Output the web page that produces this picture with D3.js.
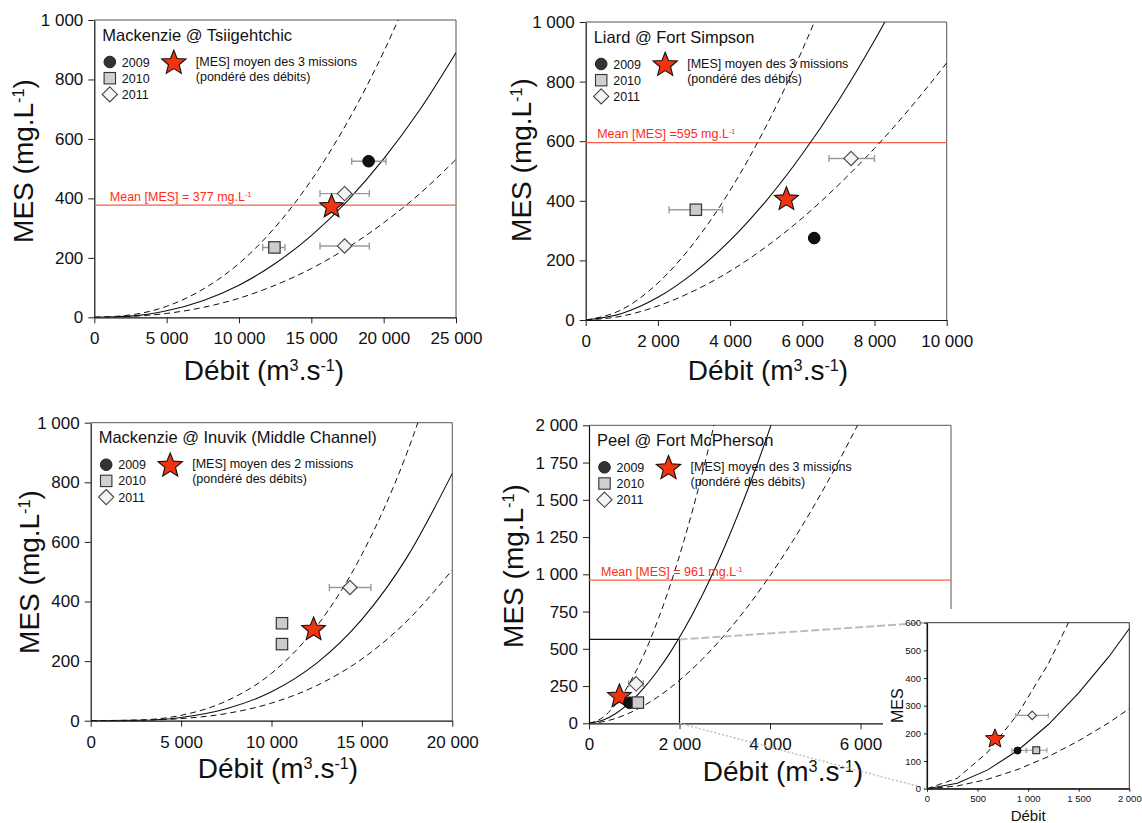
<!DOCTYPE html>
<html><head><meta charset="utf-8">
<script src="https://cdn.jsdelivr.net/npm/d3@7"></script>
<style>
body{margin:0;background:#fff}
svg{display:block}
text{font-family:"Liberation Sans",Arial,Helvetica,sans-serif;fill:#111}
</style>
</head><body>
<svg id="c" width="1142" height="823"></svg>
<script>
// ================= DATA =================
const years = ["2009", "2010", "2011"];
const starLegend2 = "[MES] moyen des 2 missions";
const starLegend3 = "[MES] moyen des 3 missions";
const starLegendSub = "(pondéré des débits)";

// Mackenzie @ Tsiigehtchic
const tsiTitle = "Mackenzie @ Tsiigehtchic";
const tsiXTicks = [0, 5000, 10000, 15000, 20000, 25000];
const tsiYTicks = [0, 200, 400, 600, 800, 1000];
const tsiSolid = [[0,0],[2500,4],[5000,22],[7500,56],[10000,108],[12500,181],[15000,275],[17500,392],[20000,533],[22500,698],[25000,890]];
const tsiUpper = [[0,0],[2500,8],[5000,37],[7500,94],[10000,181],[12500,303],[15000,461],[17500,657],[20000,893],[22500,1170]];
const tsiLower = [[0,0],[2500,3],[5000,13],[7500,33],[10000,64],[12500,108],[15000,164],[17500,234],[20000,318],[22500,416],[25000,531]];
const tsiObs = [
  {year:"2009", q:18960, mes:525, qLo:17790, qHi:20160},
  {year:"2010", q:12450, mes:235, qLo:11640, qHi:13180},
  {year:"2011", q:17300, mes:416, qLo:15600, qHi:19010},
  {year:"2011", q:17300, mes:240, qLo:15600, qHi:19010}
];
const tsiStar = [16400, 372];
const tsiMean = 377;

// Liard @ Fort Simpson
const liaTitle = "Liard @ Fort Simpson";
const liaXTicks = [0, 2000, 4000, 6000, 8000, 10000];
const liaYTicks = [0, 200, 400, 600, 800, 1000];
const liaSolid = [[0,0],[1000,22],[2000,76],[3000,159],[4000,267],[5000,400],[6000,557],[7000,736],[8000,938],[9000,1160]];
const liaUpper = [[0,0],[1000,35],[2000,124],[3000,259],[4000,435],[5000,651],[6000,906],[7000,1198]];
const liaLower = [[0,0],[1000,13],[2000,47],[3000,98],[4000,164],[5000,246],[6000,342],[7000,453],[8000,576],[9000,713],[10000,863]];
const liaObs = [
  {year:"2009", q:6330, mes:275, qLo:null, qHi:null},
  {year:"2010", q:3050, mes:370, qLo:2310, qHi:3790},
  {year:"2011", q:7350, mes:542, qLo:6740, qHi:8000}
];
const liaStar = [5560, 405];
const liaMean = 595;

// Mackenzie @ Inuvik (Middle Channel)
const inuTitle = "Mackenzie @ Inuvik (Middle Channel)";
const inuXTicks = [0, 5000, 10000, 15000, 20000];
const inuYTicks = [0, 200, 400, 600, 800, 1000];
const inuSolid = [[0,0],[2500,1],[5000,11],[7500,40],[10000,97],[12500,193],[15000,340],[17500,549],[20000,830]];
const inuUpper = [[0,0],[2500,2],[5000,18],[7500,66],[10000,159],[12500,317],[15000,558],[17500,900],[20000,1361]];
const inuLower = [[0,0],[2500,1],[5000,7],[7500,24],[10000,59],[12500,118],[15000,207],[17500,335],[20000,506]];
const inuObs = [
  {year:"2010", q:10580, mes:327, qLo:null, qHi:null},
  {year:"2010", q:10580, mes:257, qLo:null, qHi:null},
  {year:"2011", q:14340, mes:447, qLo:13200, qHi:15500}
];
const inuStar = [12330, 306];

// Peel @ Fort McPherson
const peeTitle = "Peel @ Fort McPherson";
const peeXTicks = [0, 2000, 4000, 6000, 8000];
const peeYTicks = [0, 250, 500, 750, 1000, 1250, 1500, 1750, 2000];
const peeSolid = [[0,0],[300,20],[600,68],[900,139],[1200,232],[1500,346],[1800,478],[2100,629],[2500,858],[3000,1187],[3500,1562],[4000,1981],[4500,2444]];
const peeUpper = [[0,0],[300,38],[600,132],[900,271],[1200,452],[1500,675],[1800,932],[2100,1227],[2500,1673],[3000,2315]];
const peeLower = [[0,0],[300,10],[600,34],[900,70],[1200,116],[1500,173],[1800,239],[2100,315],[2500,429],[3000,594],[3500,781],[4000,991],[4500,1222],[5000,1474],[5500,1747],[6000,2039]];
const peeObs = [
  {year:"2009", q:895, mes:138, qLo:840, qHi:980},
  {year:"2010", q:1080, mes:139, qLo:985, qHi:1185},
  {year:"2011", q:1040, mes:265, qLo:877, qHi:1199}
];
const peeStar = [672, 180];
const peeMean = 961;
const peeZoomBox = [2000, 563];
const insetXTicks = [0, 500, 1000, 1500, 2000];
const insetYTicks = [0, 100, 200, 300, 400, 500, 600];

// ================= DRAWING =================
const svg = d3.select("#c");
const loc = d3.formatLocale({decimal: ",", thousands: " ", grouping: [3], currency: ["", ""]});
const fmt = loc.format(",");
const FONT = '"Liberation Sans",Arial,Helvetica,sans-serif';
const STAR_FILL = "#f2330f";
const MEAN_LINE = "#f4604c";
const MEAN_TEXT = "#ff2a1a";

function starPath(R, r) {
  const pts = [];
  for (let i = 0; i < 10; i++) {
    const a = -Math.PI / 2 + i * Math.PI / 5;
    const rad = i % 2 === 0 ? R : r;
    pts.push([rad * Math.cos(a), rad * Math.sin(a)]);
  }
  return "M" + pts.map(p => p[0].toFixed(2) + "," + p[1].toFixed(2)).join("L") + "Z";
}

function marker(g, year, x, y, s) {
  if (year === "2009") {
    g.append("circle").attr("cx", x).attr("cy", y).attr("r", 5.8 * s)
      .attr("fill", "#111").attr("stroke", "#000").attr("stroke-width", 1);
  } else if (year === "2010") {
    const h = 5.7 * s;
    g.append("rect").attr("x", x - h).attr("y", y - h).attr("width", 2 * h).attr("height", 2 * h)
      .attr("fill", "#cccccc").attr("stroke", "#333").attr("stroke-width", 1.2);
  } else {
    const h = 7.2 * s;
    g.append("path").attr("d", `M${x},${y - h}L${x + h},${y}L${x},${y + h}L${x - h},${y}Z`)
      .attr("fill", "#f2f2f2").attr("stroke", "#444").attr("stroke-width", 1.1);
  }
}

function legendMarker(g, year, x, y) {
  if (year === "2009") {
    g.append("circle").attr("cx", x).attr("cy", y).attr("r", 5.8).attr("fill", "#333").attr("stroke", "#222");
  } else if (year === "2010") {
    g.append("rect").attr("x", x - 5.7).attr("y", y - 5.7).attr("width", 11.4).attr("height", 11.4)
      .attr("fill", "#d0d0d0").attr("stroke", "#333").attr("stroke-width", 1.1);
  } else {
    const h = 7.6;
    g.append("path").attr("d", `M${x},${y - h}L${x + h},${y}L${x},${y + h}L${x - h},${y}Z`)
      .attr("fill", "#f4f4f4").attr("stroke", "#444").attr("stroke-width", 1.1);
  }
}

function supText(sel, parts) {
  parts.forEach(([t, sup]) => {
    const ts = sel.append("tspan").text(t);
    if (sup) ts.attr("baseline-shift", "super").attr("font-size", "58%");
  });
}

let clipId = 0;
function drawPanel(L, D) {
  const x = d3.scaleLinear().domain([0, L.xMax]).range([L.left, L.right]);
  const y = d3.scaleLinear().domain([0, L.yMax]).range([L.bottom, L.top]);
  const g = svg.append("g");

  g.append("path")
    .attr("d", `M${L.left},${L.top}H${L.right}V${L.bottom}`)
    .attr("fill", "none").attr("stroke", "#555").attr("stroke-width", 1);

  const xa = d3.axisBottom(x).tickValues(L.xTicks).tickFormat(fmt).tickSize(6).tickPadding(9).tickSizeOuter(0);
  const ya = d3.axisLeft(y).tickValues(L.yTicks).tickFormat(fmt).tickSize(6).tickPadding(5).tickSizeOuter(0);
  const gx = g.append("g").attr("transform", `translate(0,${L.bottom})`).call(xa);
  const gy = g.append("g").attr("transform", `translate(${L.left},0)`).call(ya);
  [gx, gy].forEach(a => {
    a.selectAll("text").attr("font-size", 17).attr("font-family", FONT).attr("fill", "#111");
    a.selectAll("line").attr("stroke", "#222");
    a.select(".domain").attr("stroke", "#111").attr("stroke-width", 1.2);
  });

  const xt = g.append("text").attr("x", L.xTitle[0]).attr("y", L.xTitle[1])
    .attr("text-anchor", "middle").attr("font-size", 28);
  supText(xt, [["Débit (m", false], ["3", true], [".s", false], ["-1", true], [")", false]]);
  const yt = g.append("text").attr("transform", `translate(${L.yTitle[0]},${L.yTitle[1]}) rotate(-90)`)
    .attr("text-anchor", "middle").attr("font-size", 28);
  supText(yt, [["MES (mg.L", false], ["-1", true], [")", false]]);

  const cid = "clip" + (clipId++);
  g.append("clipPath").attr("id", cid).append("rect")
    .attr("x", L.left).attr("y", L.top).attr("width", L.right - L.left).attr("height", L.bottom - L.top);
  const pg = g.append("g").attr("clip-path", `url(#${cid})`);

  if (D.mean != null) {
    pg.append("line").attr("x1", L.left).attr("x2", L.right).attr("y1", y(D.mean)).attr("y2", y(D.mean))
      .attr("stroke", MEAN_LINE).attr("stroke-width", 1.3);
    const mt = g.append("text").attr("x", L.left + L.meanDx).attr("y", y(D.mean) - 4.5)
      .attr("font-size", 12.5).attr("fill", MEAN_TEXT).style("fill", MEAN_TEXT);
    supText(mt, [[L.meanText, false], ["-1", true]]);
  }

  const line = d3.line().x(d => x(d[0])).y(d => y(d[1])).curve(d3.curveMonotoneX);
  pg.append("path").attr("d", line(D.upper)).attr("fill", "none").attr("stroke", "#111")
    .attr("stroke-width", 1).attr("stroke-dasharray", "6,4");
  pg.append("path").attr("d", line(D.lower)).attr("fill", "none").attr("stroke", "#111")
    .attr("stroke-width", 1).attr("stroke-dasharray", "6,4");
  pg.append("path").attr("d", line(D.solid)).attr("fill", "none").attr("stroke", "#111").attr("stroke-width", 1.1);

  g.append("text").attr("x", L.left + 8).attr("y", L.top + 20.5).attr("font-size", 16.5).text(D.title);
  years.forEach((yr, i) => {
    legendMarker(g, yr, L.left + 15.5, L.top + 42 + i * 16.2);
    g.append("text").attr("x", L.left + 27.5).attr("y", L.top + 46.5 + i * 16.2).attr("font-size", 12.5).text(yr);
  });
  g.append("path").attr("d", starPath(12.8, 5.6))
    .attr("transform", `translate(${L.left + 79.5},${L.top + 43})`)
    .attr("fill", STAR_FILL).attr("stroke", "#111").attr("stroke-width", 1.1);
  g.append("text").attr("x", L.left + 101.5).attr("y", L.top + 45.5).attr("font-size", 12.5).text(D.starText);
  g.append("text").attr("x", L.left + 101.5).attr("y", L.top + 60.5).attr("font-size", 12.5).text(starLegendSub);

  const eg = g.append("g");
  D.obs.filter(o => o.qLo != null).forEach(o => {
    const yy = y(o.mes);
    eg.append("path")
      .attr("d", `M${x(o.qLo)},${yy}H${x(o.qHi)}M${x(o.qLo)},${yy - 3.5}V${yy + 3.5}M${x(o.qHi)},${yy - 3.5}V${yy + 3.5}`)
      .attr("stroke", "#9a9a9a").attr("stroke-width", 1.4).attr("fill", "none");
  });
  g.append("path").attr("d", starPath(12.5, 5.5))
    .attr("transform", `translate(${x(D.star[0])},${y(D.star[1])})`)
    .attr("fill", STAR_FILL).attr("stroke", "#111").attr("stroke-width", 1.1);
  D.obs.forEach(o => marker(g, o.year, x(o.q), y(o.mes), 1));

  return {x, y, g};
}

drawPanel(
  {left: 94.3, right: 456, top: 20, bottom: 317.3, xMax: 25000, yMax: 1000,
   xTicks: tsiXTicks, yTicks: tsiYTicks, xTitle: [264, 380], yTitle: [33, 161],
   meanDx: 15.5, meanText: "Mean [MES] = " + tsiMean + " mg.L"},
  {title: tsiTitle, solid: tsiSolid, upper: tsiUpper, lower: tsiLower, obs: tsiObs,
   star: tsiStar, mean: tsiMean, starText: starLegend3});

drawPanel(
  {left: 585.7, right: 946.7, top: 22, bottom: 320, xMax: 10000, yMax: 1000,
   xTicks: liaXTicks, yTicks: liaYTicks, xTitle: [768, 380], yTitle: [531, 160],
   meanDx: 11.5, meanText: "Mean [MES] =" + liaMean + " mg.L"},
  {title: liaTitle, solid: liaSolid, upper: liaUpper, lower: liaLower, obs: liaObs,
   star: liaStar, mean: liaMean, starText: starLegend3});

drawPanel(
  {left: 90.7, right: 452.3, top: 422.7, bottom: 720.7, xMax: 20000, yMax: 1000,
   xTicks: inuXTicks, yTicks: inuYTicks, xTitle: [278, 778.3], yTitle: [39, 572],
   meanDx: 12},
  {title: inuTitle, solid: inuSolid, upper: inuUpper, lower: inuLower, obs: inuObs,
   star: inuStar, mean: null, starText: starLegend2});

const P4 = drawPanel(
  {left: 589, right: 951, top: 425.3, bottom: 723.3, xMax: 8000, yMax: 2000,
   xTicks: peeXTicks, yTicks: peeYTicks, xTitle: [783, 780.7], yTitle: [522.7, 566],
   meanDx: 12, meanText: "Mean [MES] = " + peeMean + " mg.L"},
  {title: peeTitle, solid: peeSolid, upper: peeUpper, lower: peeLower, obs: peeObs,
   star: peeStar, mean: peeMean, starText: starLegend3});

svg.append("path")
  .attr("d", `M${P4.x(0)},${P4.y(peeZoomBox[1])}H${P4.x(peeZoomBox[0])}V${P4.y(0)}`)
  .attr("fill", "none").attr("stroke", "#111").attr("stroke-width", 1.2);

svg.append("rect").attr("x", 883).attr("y", 609).attr("width", 259).attr("height", 214).attr("fill", "#fff");

const IL = {left: 927, right: 1129.3, top: 622.7, bottom: 788.7};
const ix = d3.scaleLinear().domain([0, 2000]).range([IL.left, IL.right]);
const iy = d3.scaleLinear().domain([0, 600]).range([IL.bottom, IL.top]);

svg.append("line").attr("x1", P4.x(peeZoomBox[0])).attr("y1", P4.y(peeZoomBox[1])).attr("x2", IL.left).attr("y2", IL.top)
  .attr("stroke", "#bdbdbd").attr("stroke-width", 2).attr("stroke-dasharray", "8,3");
svg.append("line").attr("x1", P4.x(peeZoomBox[0])).attr("y1", P4.y(0)).attr("x2", IL.left).attr("y2", IL.bottom)
  .attr("stroke", "#c4c4c4").attr("stroke-width", 1.6).attr("stroke-dasharray", "2,2");

const ig = svg.append("g");
ig.append("rect").attr("x", IL.left).attr("y", IL.top).attr("width", IL.right - IL.left).attr("height", IL.bottom - IL.top)
  .attr("fill", "#fff").attr("stroke", "#333").attr("stroke-width", 1);
const ixa = d3.axisBottom(ix).tickValues(insetXTicks).tickFormat(fmt).tickSize(3).tickPadding(4).tickSizeOuter(0);
const iya = d3.axisLeft(iy).tickValues(insetYTicks).tickFormat(fmt).tickSize(3).tickPadding(3).tickSizeOuter(0);
const igx = ig.append("g").attr("transform", `translate(0,${IL.bottom})`).call(ixa);
const igy = ig.append("g").attr("transform", `translate(${IL.left},0)`).call(iya);
[igx, igy].forEach(a => {
  a.selectAll("text").attr("font-size", 9.5).attr("font-family", FONT).attr("fill", "#222");
  a.selectAll("line").attr("stroke", "#222");
  a.select(".domain").attr("stroke", "#111").attr("stroke-width", 1.2);
});
ig.append("text").attr("x", (IL.left + IL.right) / 2).attr("y", 821).attr("text-anchor", "middle").attr("font-size", 15).text("Débit");
ig.append("text").attr("transform", `translate(903,${(IL.top + IL.bottom) / 2}) rotate(-90)`).attr("text-anchor", "middle")
  .attr("font-size", 16).text("MES");

ig.append("clipPath").attr("id", "iclip").append("rect")
  .attr("x", IL.left).attr("y", IL.top).attr("width", IL.right - IL.left).attr("height", IL.bottom - IL.top);
const ipg = ig.append("g").attr("clip-path", "url(#iclip)");
const iline = d3.line().x(d => ix(d[0])).y(d => iy(d[1]));
ipg.append("path").attr("d", iline(peeUpper)).attr("fill", "none").attr("stroke", "#111").attr("stroke-dasharray", "6,4");
ipg.append("path").attr("d", iline(peeLower)).attr("fill", "none").attr("stroke", "#111").attr("stroke-dasharray", "6,4");
ipg.append("path").attr("d", iline(peeSolid)).attr("fill", "none").attr("stroke", "#111").attr("stroke-width", 1.1);
peeObs.forEach(o => {
  const yy = iy(o.mes);
  ig.append("path")
    .attr("d", `M${ix(o.qLo)},${yy}H${ix(o.qHi)}M${ix(o.qLo)},${yy - 2.5}V${yy + 2.5}M${ix(o.qHi)},${yy - 2.5}V${yy + 2.5}`)
    .attr("stroke", "#999").attr("stroke-width", 1.1).attr("fill", "none");
});
ig.append("path").attr("d", starPath(10, 4.4))
  .attr("transform", `translate(${ix(peeStar[0])},${iy(peeStar[1])})`)
  .attr("fill", STAR_FILL).attr("stroke", "#111").attr("stroke-width", 1);
peeObs.forEach(o => marker(ig, o.year, ix(o.q), iy(o.mes), 0.6));
</script>
</body></html>
